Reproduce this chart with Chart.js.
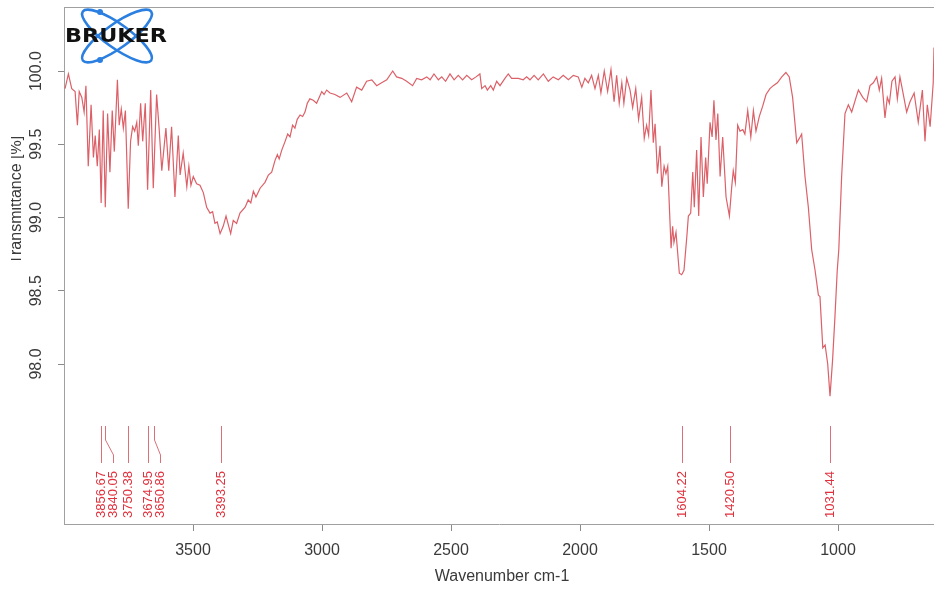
<!DOCTYPE html>
<html>
<head>
<meta charset="utf-8">
<script src="https://cdn.jsdelivr.net/npm/chart.js@4.4.1/dist/chart.umd.min.js"></script>
<style>
  html, body { margin: 0; padding: 0; background: #fff; }
  #wrap { width: 934px; height: 590px; }
</style>
</head>
<body>
<div id="wrap"><canvas id="irChart" width="934" height="590"></canvas></div>
<script>
// Spectrum (wavenumber cm-1 / transmittance %)
const wavenumbers = [
  3996, 3983, 3970, 3957, 3948, 3941, 3931, 3922, 3915, 3906, 3895, 3886, 3879, 3871, 3863, 3856,
  3848, 3840, 3831, 3822, 3813, 3805, 3793, 3786, 3778, 3770, 3762, 3751, 3742, 3734, 3726, 3718,
  3712, 3703, 3695, 3685, 3676, 3664, 3654, 3641, 3631, 3621, 3605, 3594, 3583, 3570, 3557, 3550,
  3538, 3524, 3516, 3508, 3499, 3486, 3473, 3460, 3447, 3434, 3424, 3415, 3406, 3395, 3383, 3372,
  3363, 3354, 3344, 3331, 3318, 3298, 3286, 3276, 3266, 3256, 3240, 3221, 3208, 3195, 3182, 3173,
  3166, 3156, 3143, 3133, 3124, 3114, 3105, 3096, 3085, 3075, 3066, 3057, 3047, 3034, 3021, 3011,
  3001, 2992, 2982, 2969, 2950, 2930, 2904, 2885, 2866, 2846, 2827, 2807, 2788, 2769, 2749, 2726,
  2711, 2691, 2672, 2649, 2633, 2614, 2594, 2581, 2566, 2549, 2536, 2521, 2504, 2488, 2472, 2455,
  2439, 2420, 2403, 2388, 2381, 2368, 2359, 2346, 2336, 2323, 2310, 2291, 2278, 2265, 2239, 2220,
  2207, 2194, 2178, 2162, 2142, 2123, 2104, 2084, 2065, 2045, 2026, 2007, 1993, 1981, 1968, 1955,
  1942, 1929, 1919, 1906, 1893, 1880, 1868, 1858, 1848, 1838, 1830, 1819, 1806, 1796, 1784, 1773,
  1761, 1751, 1742, 1734, 1725, 1716, 1709, 1700, 1690, 1683, 1674, 1667, 1660, 1651, 1647, 1641,
  1636, 1628, 1615, 1606, 1597, 1586, 1580, 1571, 1563, 1557, 1548, 1540, 1531, 1522, 1513, 1507,
  1496, 1488, 1481, 1473, 1466, 1457, 1447, 1434, 1421, 1412, 1406, 1398, 1389, 1380, 1369, 1361,
  1350, 1338, 1328, 1318, 1305, 1292, 1279, 1264, 1251, 1235, 1218, 1202, 1189, 1176, 1160, 1150,
  1141, 1128, 1115, 1102, 1089, 1076, 1070, 1059, 1050, 1040, 1031, 1021, 1012, 1003, 997, 986,
  973, 960, 947, 930, 921, 904, 889, 876, 863, 850, 840, 831, 818, 809, 801, 791,
  779, 770, 760, 747, 734, 721, 705, 689, 673, 663, 654, 643, 631, 628
];
const transmittance = [
  99.88, 99.98, 99.88, 99.86, 99.63, 99.86, 99.82, 99.72, 99.90, 99.35, 99.77, 99.41, 99.56, 99.35, 99.60, 99.10,
  99.73, 99.07, 99.71, 99.31, 99.73, 99.45, 99.94, 99.63, 99.74, 99.61, 99.73, 99.06, 99.52, 99.62, 99.59, 99.65,
  99.49, 99.78, 99.52, 99.78, 99.19, 99.87, 99.20, 99.84, 99.60, 99.32, 99.61, 99.32, 99.62, 99.14, 99.56, 99.29,
  99.44, 99.21, 99.35, 99.22, 99.28, 99.23, 99.22, 99.17, 99.07, 99.03, 99.04, 98.96, 98.97, 98.89, 98.94, 99.01,
  98.95, 98.89, 98.98, 98.96, 99.03, 99.07, 99.12, 99.10, 99.18, 99.14, 99.20, 99.24, 99.29, 99.31, 99.39, 99.43,
  99.40, 99.46, 99.52, 99.57, 99.55, 99.63, 99.61, 99.67, 99.70, 99.69, 99.72, 99.78, 99.81, 99.80, 99.78, 99.82,
  99.86, 99.84, 99.87, 99.85, 99.84, 99.82, 99.85, 99.79, 99.89, 99.87, 99.93, 99.94, 99.90, 99.92, 99.94, 100.00,
  99.96, 99.95, 99.93, 99.90, 99.95, 99.94, 99.96, 99.94, 99.98, 99.94, 99.96, 99.93, 99.98, 99.94, 99.97, 99.94,
  99.97, 99.94, 99.96, 99.98, 99.88, 99.90, 99.87, 99.90, 99.87, 99.93, 99.90, 99.95, 99.98, 99.95, 99.95, 99.94,
  99.96, 99.94, 99.97, 99.94, 99.98, 99.93, 99.96, 99.94, 99.97, 99.94, 99.97, 99.96, 99.89, 99.95, 99.92, 99.97,
  99.88, 99.97, 99.85, 100.00, 99.86, 100.01, 99.79, 99.97, 99.78, 99.92, 99.78, 99.95, 99.87, 99.75, 99.88, 99.67,
  99.82, 99.54, 99.63, 99.56, 99.87, 99.51, 99.64, 99.30, 99.49, 99.21, 99.35, 99.30, 99.35, 98.96, 98.79, 98.94,
  98.83, 98.90, 98.62, 98.61, 98.64, 98.87, 99.01, 99.03, 99.31, 99.07, 99.46, 99.01, 99.55, 99.14, 99.41, 99.23,
  99.65, 99.55, 99.80, 99.53, 99.71, 99.28, 99.55, 99.14, 99.01, 99.21, 99.32, 99.24, 99.63, 99.59, 99.60, 99.57,
  99.73, 99.55, 99.73, 99.59, 99.69, 99.76, 99.84, 99.88, 99.90, 99.92, 99.96, 99.99, 99.96, 99.82, 99.51, 99.54,
  99.57, 99.28, 99.07, 98.78, 98.64, 98.47, 98.46, 98.11, 98.13, 98.00, 97.78, 98.03, 98.32, 98.64, 98.78, 99.28,
  99.71, 99.77, 99.72, 99.82, 99.87, 99.82, 99.79, 99.90, 99.92, 99.96, 99.87, 99.95, 99.68, 99.82, 99.78, 99.93,
  99.96, 99.81, 99.96, 99.84, 99.72, 99.79, 99.85, 99.65, 99.87, 99.52, 99.77, 99.62, 99.92, 100.16
];

const xTicks = [1000, 1500, 2000, 2500, 3000, 3500];
const yTicks = [98.0, 98.5, 99.0, 99.5, 100.0];

// Picked peaks
const peakPositions = [3856.67, 3840.05, 3750.38, 3674.95, 3650.86, 3393.25, 1604.22, 1420.50, 1031.44];

const FONT = '"Liberation Sans", Arial, sans-serif';
const TEXT = '#3a3a3a';
const FRAME = '#a0a0a0';

const decorPlugin = {
  id: 'decor',
  afterDraw(chart) {
    const ctx = chart.ctx;
    const area = chart.chartArea;
    const xs = chart.scales.x;
    const ys = chart.scales.y;
    ctx.save();

    // top border of the box
    ctx.strokeStyle = FRAME;
    ctx.lineWidth = 1;
    ctx.beginPath();
    ctx.moveTo(area.left, area.top + 0.5);
    ctx.lineTo(area.right, area.top + 0.5);
    ctx.stroke();

    // y tick labels, vertical like R
    ctx.fillStyle = TEXT;
    ctx.font = '16px ' + FONT;
    ctx.textAlign = 'center';
    ctx.textBaseline = 'middle';
    yTicks.forEach(v => {
      const y = ys.getPixelForValue(v);
      ctx.save();
      ctx.translate(37, y);
      ctx.rotate(-Math.PI / 2);
      ctx.fillText(v.toFixed(1), 0, 0);
      ctx.restore();
    });

    // y axis title (cut off by the left edge in the original)
    ctx.save();
    ctx.translate(21, 200);
    ctx.rotate(-Math.PI / 2);
    ctx.textBaseline = 'alphabetic';
    ctx.fillText('Transmittance [%]', 0, 0);
    ctx.restore();
    ctx.fillStyle = '#fff';
    ctx.fillRect(0, 0, 11, 400);

    // x axis title
    ctx.fillStyle = TEXT;
    ctx.font = '16px ' + FONT;
    ctx.textAlign = 'center';
    ctx.textBaseline = 'middle';
    ctx.fillText('Wavenumber cm-1', 502, 577);

    // peak markers
    const lineTop = 426, bendTop = 440, bendBottom = 455, lineBottom = 463;
    const sorted = peakPositions.map(p => ({ p, x: Math.round(xs.getPixelForValue(p)) + 0.5 }))
      .sort((a, b) => a.x - b.x);
    let prev = -100;
    sorted.forEach(item => {
      item.lx = Math.max(item.x, prev + 12);
      prev = item.lx;
    });
    ctx.strokeStyle = '#d9707a';
    ctx.lineWidth = 1;
    sorted.forEach(item => {
      ctx.beginPath();
      ctx.moveTo(item.x, lineTop);
      if (Math.abs(item.lx - item.x) > 0.5) {
        ctx.lineTo(item.x, bendTop);
        ctx.lineTo(item.lx, bendBottom);
      }
      ctx.lineTo(item.lx, lineBottom);
      ctx.stroke();
    });
    ctx.fillStyle = '#e0303c';
    ctx.font = '13px ' + FONT;
    ctx.textAlign = 'left';
    ctx.textBaseline = 'middle';
    sorted.forEach(item => {
      ctx.save();
      ctx.translate(item.lx, 518);
      ctx.rotate(-Math.PI / 2);
      ctx.fillText(item.p.toFixed(2), 0, 0);
      ctx.restore();
    });

    // Bruker logo
    ctx.strokeStyle = '#2a7fe0';
    ctx.lineWidth = 2.6;
    [0.62, -0.62].forEach(a => {
      ctx.beginPath();
      ctx.ellipse(117, 36, 42, 12, a, 0, Math.PI * 2);
      ctx.stroke();
    });
    ctx.fillStyle = '#2a7fe0';
    [[100, 12], [100, 60]].forEach(([cx, cy]) => {
      ctx.beginPath();
      ctx.arc(cx, cy, 3, 0, Math.PI * 2);
      ctx.fill();
    });
    ctx.fillStyle = '#111';
    ctx.font = 'bold 20px "DejaVu Sans", Arial, sans-serif';
    ctx.textAlign = 'left';
    ctx.textBaseline = 'middle';
    const w = ctx.measureText('BRUKER').width;
    ctx.save();
    ctx.translate(65, 37);
    ctx.scale(102 / w, 1);
    ctx.fillText('BRUKER', 0, 0);
    ctx.restore();

    ctx.restore();
  }
};

const points = wavenumbers.map((w, i) => ({ x: w, y: transmittance[i] }));

new Chart(document.getElementById('irChart').getContext('2d'), {
  type: 'line',
  data: {
    datasets: [{
      data: points,
      borderColor: '#dc6068',
      borderWidth: 1.2,
      pointRadius: 0,
      tension: 0,
      fill: false
    }]
  },
  options: {
    responsive: false,
    animation: false,
    devicePixelRatio: 1,
    layout: { padding: { top: 7, right: 0, left: 0, bottom: 0 } },
    plugins: {
      legend: { display: false },
      tooltip: { enabled: false }
    },
    scales: {
      x: {
        type: 'linear',
        reverse: true,
        min: 628,
        max: 4000,
        border: { display: true, color: FRAME, width: 1 },
        grid: { drawOnChartArea: false, drawTicks: true, tickLength: 7, color: '#8a8a8a' },
        ticks: {
          color: TEXT,
          font: { size: 16, family: FONT },
          padding: 10,
          maxRotation: 0,
          callback: v => String(v)
        },
        afterBuildTicks: s => { s.ticks = xTicks.map(v => ({ value: v })); },
        afterFit: s => { s.height = 66; }
      },
      y: {
        min: 96.908,
        max: 100.437,
        border: { display: true, color: FRAME, width: 1 },
        grid: { drawOnChartArea: false, drawTicks: true, tickLength: 6, color: '#8a8a8a' },
        ticks: { display: false },
        afterBuildTicks: s => { s.ticks = yTicks.map(v => ({ value: v })); },
        afterFit: s => { s.width = 64; }
      }
    }
  },
  plugins: [decorPlugin]
});
</script>
</body>
</html>
